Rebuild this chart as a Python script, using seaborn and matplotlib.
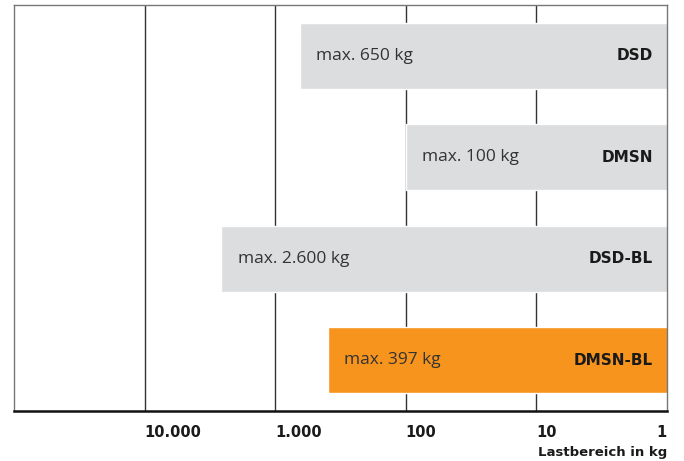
import matplotlib.pyplot as plt
import matplotlib.ticker as mticker
import seaborn as sns
import pandas as pd

# Data
products = ['DSD', 'DMSN', 'DSD-BL', 'DMSN-BL']
max_load = [650, 100, 2600, 397]
max_labels = ['max. 650 kg', 'max. 100 kg', 'max. 2.600 kg', 'max. 397 kg']
tick_values = [10000, 1000, 100, 10, 1]
tick_labels = ['10.000', '1.000', '100', '10', '1']
bar_colors = ['#dcddde', '#dcddde', '#dcddde', '#f7941d']

df = pd.DataFrame({'product': products, 'load': max_load})

sns.set_style('white')
plt.rcParams['font.family'] = ['Open Sans', 'DejaVu Sans']
bold_font = ['DejaVu Sans']

fig = plt.figure(figsize=(6.84, 4.61), dpi=100)
ax = fig.add_axes([14 / 684, 50 / 461, 653 / 684, 406 / 461])
ax.set_xscale('log')

sns.barplot(
    data=df, x='load', y='product', hue='product',
    palette=dict(zip(products, bar_colors)), saturation=1,
    orient='h', width=0.65, legend=False, ax=ax, zorder=2,
)

# reversed log axis: 100.000 on the left, 1 on the right
ax.set_xlim(100000, 1)
ax.set_ylim(3.5, -0.5)
ax.xaxis.set_minor_locator(mticker.NullLocator())
ax.set_xticks(tick_values)
ax.set_xticklabels([])
ax.set_yticks([])
ax.tick_params(length=0)
ax.set_xlabel('')
ax.set_ylabel('')

# vertical grid lines at each decade
for v in tick_values[:-1]:
    ax.axvline(v, color='#333333', lw=1.0, zorder=1)

for side in ['left', 'top', 'right']:
    ax.spines[side].set_color('#777777')
    ax.spines[side].set_linewidth(1.0)
ax.spines['bottom'].set_color('#111111')
ax.spines['bottom'].set_linewidth(1.8)

# tick labels below the axis, left-aligned to the line (last one right-aligned)
for v, lab in zip(tick_values, tick_labels):
    ha = 'right' if v == 1 else 'left'
    ax.annotate(lab, xy=(v, 0), xycoords=('data', 'axes fraction'),
                xytext=(0, -10), textcoords='offset points', family=bold_font,
                ha=ha, va='top', fontsize=10.5, fontweight='bold', color='#1a1a1a')

ax.annotate('Lastbereich in kg', xy=(1, 0), xycoords=('data', 'axes fraction'),
            xytext=(0, -25), textcoords='offset points', family=bold_font,
            ha='right', va='top', fontsize=9.5, fontweight='bold', color='#1a1a1a')

# text inside the bars
for i, (load, lab, name) in enumerate(zip(max_load, max_labels, products)):
    ax.annotate(lab, xy=(load, i), xytext=(12, 0), textcoords='offset points',
                ha='left', va='center', fontsize=12.5, color='#333333', zorder=3)
    ax.annotate(name, xy=(1, i), xytext=(-10, 0), textcoords='offset points',
                ha='right', va='center', fontsize=11, fontweight='bold',
                family=bold_font, color='#1a1a1a', zorder=3)

fig.savefig('out.png', dpi=100)
plt.close(fig)
